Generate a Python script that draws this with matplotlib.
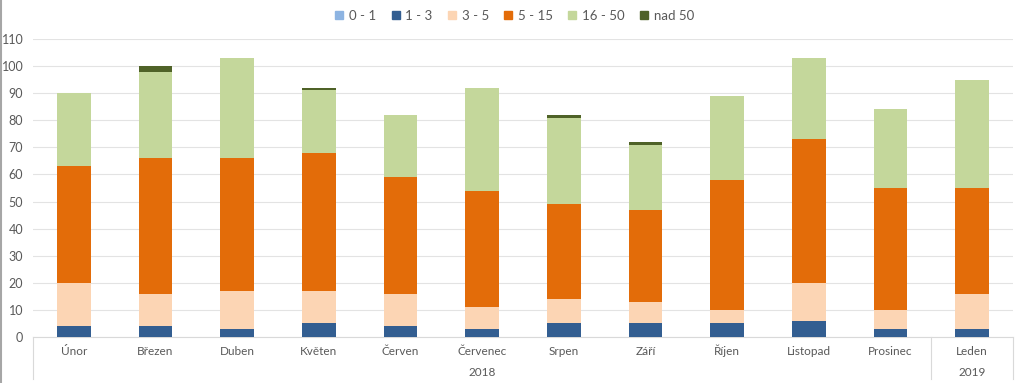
import numpy as np
import matplotlib
matplotlib.use('Agg')
import matplotlib.pyplot as plt
from matplotlib.lines import Line2D

plt.rcParams['font.family'] = ['Lato', 'DejaVu Sans']

months = ['Únor', 'Březen', 'Duben', 'Květen', 'Červen', 'Červenec', 'Srpen',
          'Září', 'Říjen', 'Listopad', 'Prosinec', 'Leden']
years = ['2018', '2019']
year_counts = [11, 1]

series_names = ['0 - 1', '1 - 3', '3 - 5', '5 - 15', '16 - 50', 'nad 50']
s_0_1 = [0, 0, 0, 0, 0, 0, 0, 0, 0, 0, 0, 0]
s_1_3 = [4, 4, 3, 5, 4, 3, 5, 5, 5, 6, 3, 3]
s_3_5 = [16, 12, 14, 12, 12, 8, 9, 8, 5, 14, 7, 13]
s_5_15 = [43, 50, 49, 51, 43, 43, 35, 34, 48, 53, 45, 39]
s_16_50 = [27, 32, 37, 23, 23, 38, 32, 24, 31, 30, 29, 40]
s_nad_50 = [0, 2, 0, 1, 0, 0, 1, 1, 0, 0, 0, 0]
colors = ['#8DB4E2', '#335E91', '#FCD5B4', '#E36C09', '#C4D79B', '#4F6228']

data = [s_0_1, s_1_3, s_3_5, s_5_15, s_16_50, s_nad_50]

fig = plt.figure(figsize=(10.23, 3.83), dpi=100)
ax = fig.add_axes([33/1023, 46/383, 980/1023, 298/383])

x = np.arange(len(months))
bottom = np.zeros(len(months))
handles = []
for vals, name, c in zip(data, series_names, colors):
    ax.bar(x, vals, bottom=bottom, width=0.41, color=c, label=name, zorder=3)
    bottom += np.array(vals)
    handles.append(Line2D([], [], marker='s', linestyle='none', markersize=6,
                          markerfacecolor=c, markeredgecolor=c))

ax.set_xlim(-0.5, len(months) - 0.5)
ax.set_ylim(0, 110)
ax.set_yticks(np.arange(0, 111, 10))
ax.yaxis.grid(True, color='#E3E3E3', linewidth=0.8, zorder=0)
for s in ['top', 'right', 'left']:
    ax.spines[s].set_visible(False)
ax.spines['bottom'].set_color('#D9D9D9')
ax.tick_params(axis='y', length=0, labelsize=9, colors='#595959', pad=7)
ax.set_xticks([])

trans = ax.get_xaxis_transform()
for i, m in enumerate(months):
    ax.text(i, -0.047, m, transform=trans, ha='center', va='center',
            fontsize=8.5, color='#595959')

# year groups and separators
start = 0
seps = [-0.5]
for yr, n in zip(years, year_counts):
    mid = start + (n - 1) / 2
    ax.text(mid, -0.118, yr, transform=trans, ha='center', va='center',
            fontsize=8.5, color='#595959')
    start += n
    seps.append(start - 0.5)
for sx in seps:
    ax.plot([sx, sx], [0, -0.14], transform=trans, color='#D9D9D9',
            linewidth=0.8, clip_on=False)

fig.legend(handles, series_names, loc='center', bbox_to_anchor=(513/1023, 1 - 16/383),
           ncol=6, frameon=False, fontsize=9.5, handletextpad=0.2, columnspacing=0.9,
           handlelength=1.1, labelcolor='#595959')

# chart border on the left edge
fig.add_artist(Line2D([1/1023, 1/1023], [0, 1], transform=fig.transFigure,
                      color='#A6A6A6', linewidth=1.5))

fig.savefig('out.png', dpi=100)
